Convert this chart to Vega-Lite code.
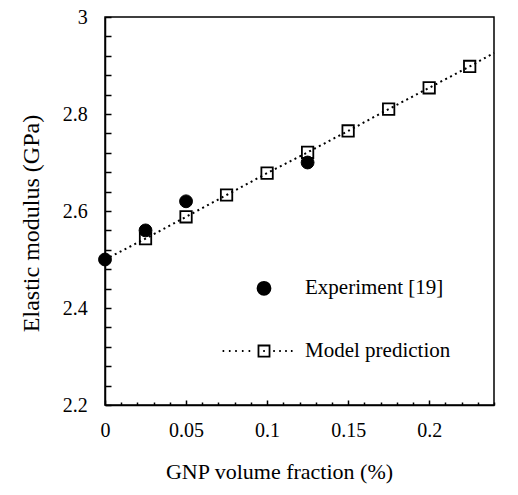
{
  "$schema": "https://vega.github.io/schema/vega-lite/v6.json",
  "width": 389,
  "height": 388,
  "autosize": {"type": "none"},
  "padding": {"left": 105, "top": 17, "right": 24, "bottom": 90},
  "background": "white",
  "config": {
    "view": {"stroke": "black", "strokeWidth": 1.5},
    "font": "Liberation Serif",
    "axis": {
      "grid": false,
      "domainColor": "black",
      "domainWidth": 1.5,
      "tickColor": "black",
      "tickWidth": 1.5,
      "labelColor": "black",
      "labelFont": "Liberation Serif",
      "labelFontSize": 20,
      "labelOverlap": false,
      "labelFlush": false,
      "titleFont": "Liberation Serif",
      "titleFontWeight": "normal",
      "titleColor": "black"
    }
  },
  "datasets": {
    "experiment": [
      {"x": 0, "y": 2.5, "series": "Experiment [19]"},
      {"x": 0.025, "y": 2.56, "series": "Experiment [19]"},
      {"x": 0.05, "y": 2.62, "series": "Experiment [19]"},
      {"x": 0.125, "y": 2.7, "series": "Experiment [19]"}
    ],
    "model": [
      {"x": 0, "y": 2.5},
      {"x": 0.025, "y": 2.543},
      {"x": 0.05, "y": 2.588},
      {"x": 0.075, "y": 2.633},
      {"x": 0.1, "y": 2.678},
      {"x": 0.125, "y": 2.721},
      {"x": 0.15, "y": 2.765},
      {"x": 0.175, "y": 2.81},
      {"x": 0.2, "y": 2.854},
      {"x": 0.225, "y": 2.898},
      {"x": 0.24, "y": 2.926}
    ]
  },
  "encoding": {
    "x": {
      "field": "x",
      "type": "quantitative",
      "scale": {"domain": [0, 0.24], "nice": false},
      "axis": {
        "values": [0, 0.01, 0.02, 0.03, 0.04, 0.05, 0.06, 0.07, 0.08, 0.09, 0.1, 0.11, 0.12, 0.13, 0.14, 0.15, 0.16, 0.17, 0.18, 0.19, 0.2, 0.21, 0.22, 0.23, 0.24],
        "labelExpr": "abs(datum.value*20 - round(datum.value*20)) < 1e-6 && datum.value < 0.235 ? format(datum.value, '~g') : ''",
        "tickSize": {"condition": {"test": "abs(datum.value*20 - round(datum.value*20)) < 1e-6", "value": -5}, "value": -3},
        "labelBaseline": "alphabetic",
        "labelPadding": 36,
        "title": "GNP volume fraction (%)",
        "titleColor": "black",
        "titleFontSize": 22,
        "titleX": 174,
        "titleY": 73,
        "titleBaseline": "alphabetic",
        "titleAlign": "center"
      }
    },
    "y": {
      "field": "y",
      "type": "quantitative",
      "scale": {"domain": [2.2, 3], "nice": false, "zero": false},
      "axis": {
        "values": [2.2, 2.24, 2.28, 2.32, 2.36, 2.4, 2.44, 2.48, 2.52, 2.56, 2.6, 2.64, 2.68, 2.72, 2.76, 2.8, 2.84, 2.88, 2.92, 2.96, 3],
        "labelExpr": "abs(datum.value*5 - round(datum.value*5)) < 1e-6 ? format(datum.value, '~g') : ''",
        "tickSize": -6,
        "labelPadding": 23.7,
        "title": "Elastic modulus (GPa)",
        "titleColor": "black",
        "titleFontSize": 24,
        "titleAngle": -90,
        "titleX": -67,
        "titleY": 206,
        "titleBaseline": "alphabetic",
        "titleAlign": "center"
      }
    }
  },
  "layer": [
    {
      "data": {"name": "model"},
      "mark": {"type": "line", "color": "black", "strokeWidth": 2, "strokeDash": [2, 3.5]}
    },
    {
      "data": {"name": "model"},
      "transform": [{"filter": "datum.x > 0.01 && datum.x < 0.23"}],
      "mark": {"type": "point", "shape": "square", "filled": false, "stroke": "black", "strokeWidth": 1.8, "size": 130, "opacity": 1}
    },
    {
      "data": {"name": "experiment"},
      "mark": {"type": "point", "filled": true, "stroke": "black", "strokeWidth": 1, "size": 165, "opacity": 1},
      "encoding": {
        "shape": {
          "field": "series",
          "type": "nominal",
          "scale": {
            "domain": ["Experiment [19]", "Model prediction"],
            "range": ["circle", "M-0.85,-0.85H0.85V0.85H-0.85Z M-6.37,0h0.25 M-5.4,0h0.25 M-4.43,0h0.25 M-3.4,0h0.25 M-2.37,0h0.25 M-0.12,0h0.25 M1.42,0h0.25 M2.34,0h0.25 M3.26,0h0.25 M4.14,0h0.25"]
          },
          "legend": {
            "title": null,
            "orient": "none",
            "legendX": 148.5,
            "legendY": 260.8,
            "padding": 0,
            "labelFont": "Liberation Serif",
            "labelFontSize": 21,
            "labelColor": "black",
            "labelOffset": 30.5,
            "rowPadding": 40.7,
            "symbolSize": 169,
            "symbolStrokeColor": "black",
            "symbolStrokeWidth": 1.8,
            "symbolOpacity": 1,
            "encode": {"symbols": {"update": {"stroke": {"value": "black"}, "strokeWidth": {"value": 1.8}, "strokeOpacity": {"value": 1}}}}
          }
        },
        "fill": {
          "field": "series",
          "type": "nominal",
          "scale": {
            "domain": ["Experiment [19]", "Model prediction"],
            "range": ["black", "transparent"]
          },
          "legend": {
            "title": null,
            "orient": "none",
            "legendX": 148.5,
            "legendY": 260.8,
            "padding": 0,
            "labelFont": "Liberation Serif",
            "labelFontSize": 21,
            "labelColor": "black",
            "labelOffset": 30.5,
            "rowPadding": 40.7,
            "symbolSize": 169,
            "symbolStrokeColor": "black",
            "symbolStrokeWidth": 1.8,
            "symbolOpacity": 1,
            "encode": {"symbols": {"update": {"stroke": {"value": "black"}, "strokeWidth": {"value": 1.8}, "strokeOpacity": {"value": 1}}}}
          }
        }
      }
    }
  ]
}
